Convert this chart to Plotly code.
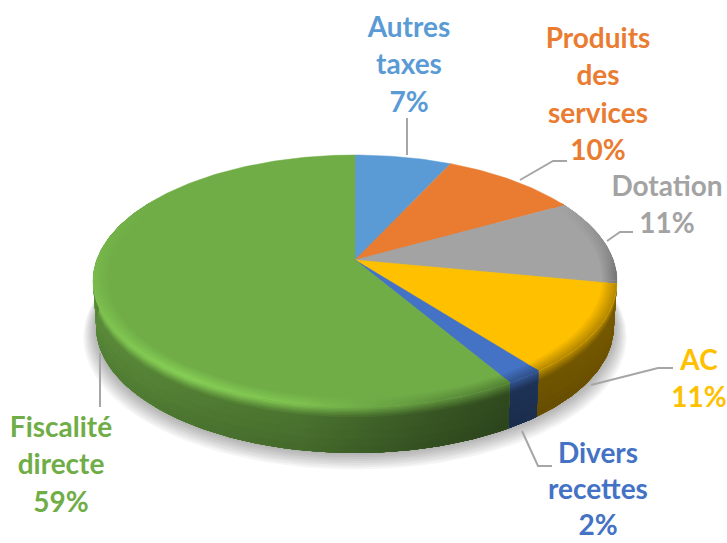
import numpy as np
import plotly.graph_objects as go

# ---- data -------------------------------------------------------------
categories = ["Autres taxes", "Produits des services", "Dotation", "AC", "Divers recettes", "Fiscalité directe"]
values = [7.0, 10.0, 11.0, 11.4, 2.0, 58.6]
label_lines = [["Autres", "taxes"], ["Produits", "des", "services"], ["Dotation"], ["AC"], ["Divers", "recettes"], ["Fiscalité", "directe"]]
colors = ["#5B9BD5", "#E97C30", "#A3A3A3", "#FFC000", "#4472C4", "#70AD47"]

# ---- layout constants (canvas pixels) ----------------------------------
W, H = 727, 543
CX, CY = 355, 260       # apex of the pie on the page
K = 1 / 6               # perspective strength
A, B = 122.5, 258.3     # vertical / horizontal scale of the projected disc
DEPTH = 46
label_cx = [409, 598, 667, 699, 598, 61]
label_top = [30, 41, 189, 363, 456, 430]
line_pitch = [37.3, 37.3, 37.3, 37.3, 36.2, 37.3]
FONT = "Lato, Carlito, Calibri, sans-serif"
FONT_SIZE = 28
leaders = [
    [(407, 118), (407, 155)],
    [(520, 180), (553, 161), (567, 161)],
    [(607, 241), (620, 232), (633, 232)],
    [(591, 385), (658, 368), (673, 368)],
    [(522, 431), (538, 466), (552, 466)],
    [(100, 353), (100, 407)],
]
SILHOUETTE = [99.6, 260.4]   # angles where x turns round on the disc


def project(t, r=1.0, d=0.0):
    """t degrees clockwise from the back of the disc, r radius, d depth 0..1."""
    a = np.radians(t)
    side, front = r * np.sin(a), -r * np.cos(a)
    den = 1 - K * front
    x = B * side / den * (1 - 0.012 * d)
    y = A * front / den + DEPTH * d
    return CX + x, CY + y


def shade(hex_color, factor):
    rgb = [int(hex_color[i:i + 2], 16) for i in (1, 3, 5)]
    return "rgb(%d,%d,%d)" % tuple(min(255, max(0, round(c * factor))) for c in rgb)


def side_factor(t):
    return np.interp(t, [60, 150, 165, 180, 190, 225, 270, 300],
                     [0.5, 0.42, 0.48, 0.58, 0.65, 0.75, 0.82, 0.85])


def rim_factor(t):
    return np.interp(t, [0, 60, 85, 100, 145, 165, 190, 215, 245, 275, 300, 360],
                     [1.0, 1.0, 0.85, 0.72, 0.72, 0.85, 1.12, 1.2, 1.12, 1.04, 1.0, 1.0])


def segments(lo, hi):
    cuts = [lo] + [c for c in SILHOUETTE if lo < c < hi] + [hi]
    return list(zip(cuts[:-1], cuts[1:]))


fig = go.Figure()


def gradient_band(t1, t2, fn, p1, p2, hex_color, factor):
    """Band between two rings, shaded left to right along the arc."""
    arc = np.linspace(t1, t2, max(3, int(t2 - t1) + 2))
    xa, ya = fn(arc, p1)
    xb, yb = fn(arc[::-1], p2)
    xs, ys = np.r_[xa, xb, xa[0]], np.r_[ya, yb, ya[0]]
    x0, x1 = xs.min(), xs.max()
    ring_x = fn(arc, p1)[0]
    order = np.argsort(ring_x)
    pos = (ring_x[order] - x0) / (x1 - x0)
    scale, last = [], -1.0
    if pos[0] > 0:
        scale.append([0.0, shade(hex_color, factor(arc[order][0]))])
        last = 0.0
    for q, tq in zip(pos, arc[order]):
        if q > last + 1e-4:
            scale.append([float(q), shade(hex_color, factor(tq))])
            last = q
    if last < 1:
        scale.append([1.0, scale[-1][1]])
    fig.add_trace(go.Scatter(x=xs, y=ys, mode="lines", fill="toself", line=dict(width=0),
                             fillgradient=dict(type="horizontal", colorscale=scale, start=x0, stop=x1),
                             hoverinfo="skip", showlegend=False))


# soft ground shadow
ts = np.linspace(0, 360, 181)
for i in range(8, 0, -1):
    x, y = project(ts, 1 + 0.006 * i, 1)
    fig.add_trace(go.Scatter(x=x, y=y + 1.0 * i, mode="lines", fill="toself",
                             fillcolor="rgba(0,0,0,0.04)", line=dict(width=0),
                             hoverinfo="skip", showlegend=False))

fractions = np.array(values) / np.sum(values) * 360
ends = np.cumsum(fractions)
starts = ends - fractions

# side wall, painted from the rim downward, every layer reaching the bottom edge
depth_steps = [0, 0.03, 0.06, 0.09, 0.12, 0.15, 0.18, 0.22, 0.27, 0.35, 0.5, 0.7, 0.85]
wall = lambda t, d: project(t, 1, d)


def wall_factor(d1):
    blend = min(1.0, (d1 + 0.01) / 0.22)

    def f(t):
        sf = side_factor(t) * (1.05 - 0.13 * d1)
        return rim_factor(t) * (1 - blend) + sf * blend
    return f


for s, e, c in zip(starts, ends, colors):
    lo, hi = max(s, 60), min(e, 300)
    if hi <= lo:
        continue
    for a1, a2 in segments(lo, hi):
        for d1 in depth_steps:
            gradient_band(a1, a2, wall, d1, 1, c, wall_factor(d1))

# top face
for s, e, c in zip(starts, ends, colors):
    arc = np.linspace(s, e, max(3, int(e - s) + 1))
    x, y = project(arc)
    fig.add_trace(go.Scatter(x=np.r_[CX, x, CX], y=np.r_[CY, y, CY], mode="lines", fill="toself",
                             fillcolor=c, line=dict(color=c, width=0.5), hoverinfo="skip", showlegend=False))

# bevel on the rim of the top face
r_steps = [0.945, 0.952, 0.959, 0.966, 0.973, 0.98, 0.987, 0.994]
top = lambda t, r: project(t, r)


def bevel_factor(w):
    return lambda t: 1 + (rim_factor(t) - 1) * w


for s, e, c in zip(starts, ends, colors):
    lo, hi = max(s, 60), min(e, 300)
    if hi <= lo:
        continue
    for a1, a2 in segments(lo, hi):
        for j, r1 in enumerate(r_steps):
            gradient_band(a1, a2, top, r1, 1, c, bevel_factor((j + 1) / len(r_steps)))

# leader lines
for pts in leaders:
    fig.add_trace(go.Scatter(x=[p[0] for p in pts], y=[p[1] for p in pts], mode="lines",
                             line=dict(color="#A6A6A6", width=2), hoverinfo="skip", showlegend=False))

# labels, one text row per line so that the line pitch is exact
for lines, v, c, cx, top_y, pitch in zip(label_lines, values, colors, label_cx, label_top, line_pitch):
    rows = lines + [f"{round(v)}%"]
    fig.add_trace(go.Scatter(x=[cx] * len(rows), y=[top_y + pitch * i for i in range(len(rows))],
                             mode="text", text=[f"<b>{r}</b>" for r in rows], textposition="middle center",
                             textfont=dict(family=FONT, size=FONT_SIZE, color=c),
                             hoverinfo="skip", showlegend=False))

fig.update_layout(width=W, height=H, margin=dict(l=0, r=0, t=0, b=0), paper_bgcolor="white",
                  plot_bgcolor="white", showlegend=False,
                  xaxis=dict(range=[0, W], visible=False, fixedrange=True),
                  yaxis=dict(range=[H, 0], visible=False, fixedrange=True))
fig.write_html("out.html", config={"displayModeBar": False},
               post_script="document.body.style.margin='0';document.body.style.overflow='hidden';")
